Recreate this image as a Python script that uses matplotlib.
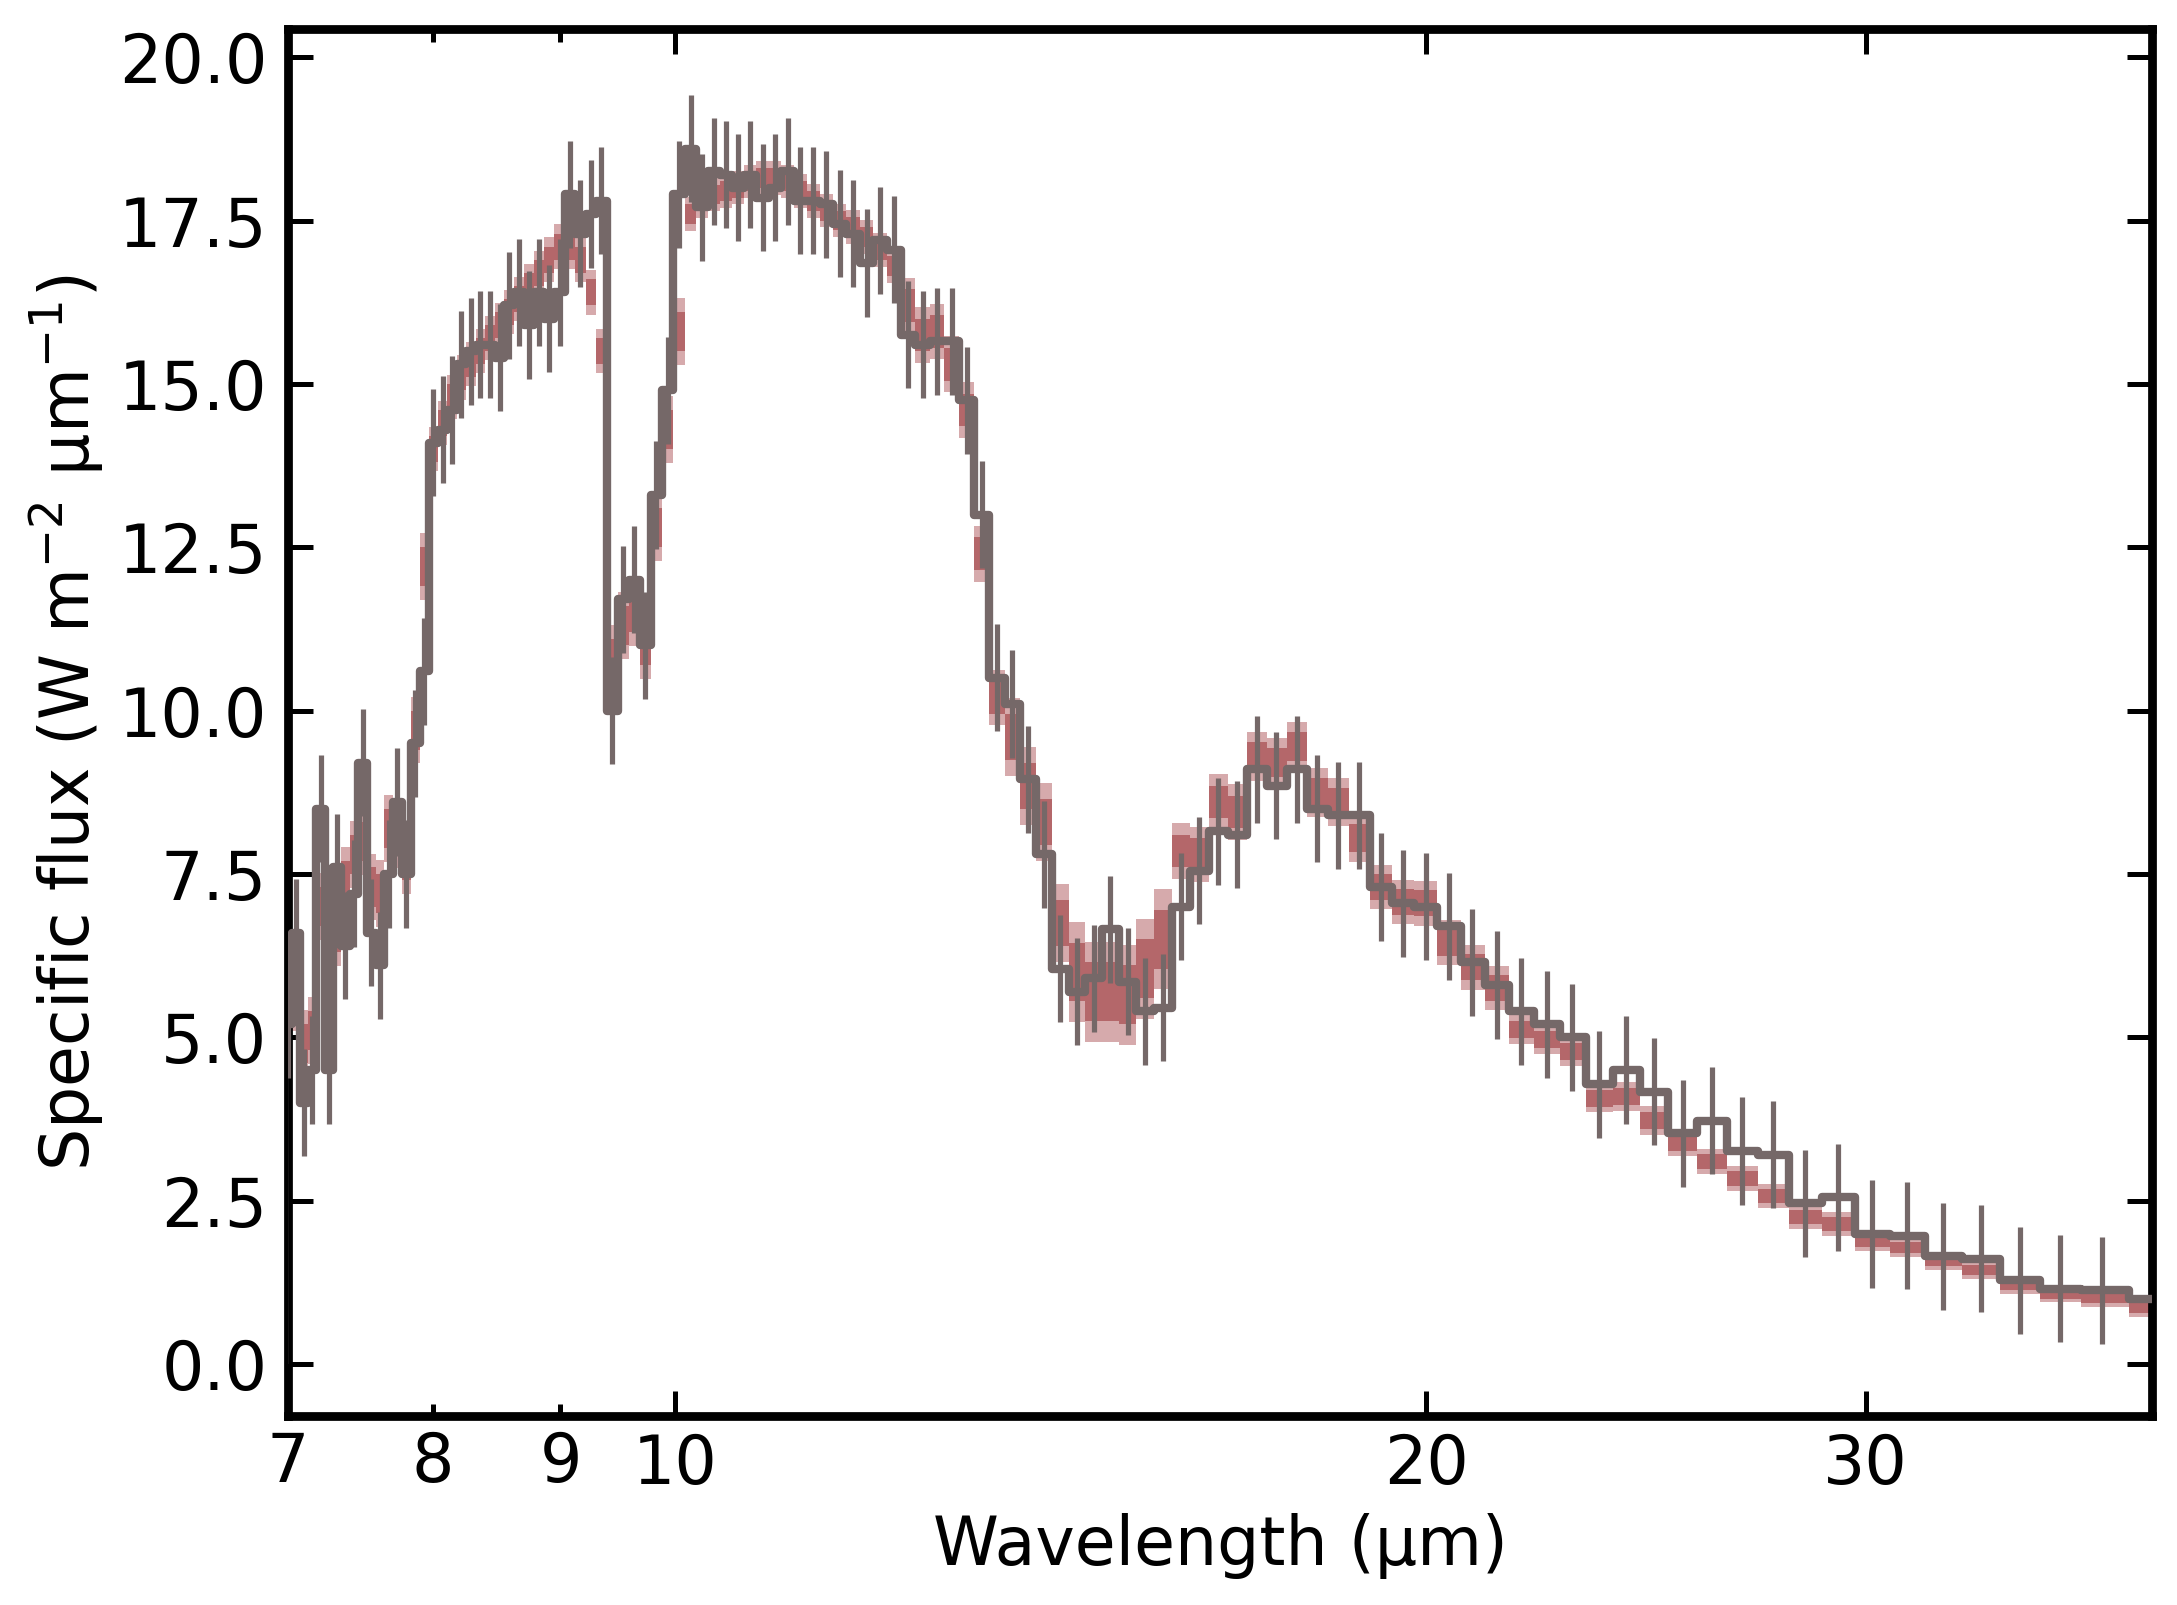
import numpy as np
import matplotlib
matplotlib.use("Agg")
import matplotlib.pyplot as plt

# bin centres of the spectrum (micron)
wavelength = [
    7.000, 7.052, 7.105, 7.158, 7.213, 7.268, 7.324, 7.381, 7.439, 7.498,
    7.558, 7.619, 7.680, 7.743, 7.807, 7.872, 7.938, 8.005, 8.073, 8.142,
    8.213, 8.285, 8.358, 8.432, 8.508, 8.585, 8.663, 8.743, 8.825, 8.908,
    8.992, 9.078, 9.166, 9.255, 9.347, 9.440, 9.535, 9.632, 9.730, 9.831,
    9.934, 10.040, 10.147, 10.257, 10.369, 10.484, 10.601, 10.721, 10.844, 10.969,
    11.098, 11.229, 11.364, 11.502, 11.643, 11.788, 11.936, 12.088, 12.245, 12.405,
    12.569, 12.738, 12.912, 13.090, 13.273, 13.462, 13.656, 13.855, 14.061, 14.272,
    14.491, 14.716, 14.948, 15.187, 15.434, 15.690, 15.954, 16.227, 16.510, 16.803,
    17.106, 17.420, 17.746, 18.085, 18.437, 18.802, 19.183, 19.579, 19.992, 20.423,
    20.872, 21.342, 21.834, 22.349, 22.888, 23.455, 24.050, 24.676, 25.336, 26.032,
    26.767, 27.544, 28.369, 29.244, 30.175, 31.167, 32.227, 33.361, 34.578, 35.887,
    37.300, 39.200,
]

# observed spectrum (grey steps + error bars)
flux = [
    5.2, 6.6, 4.0, 4.5, 8.5, 4.5, 7.6, 6.4, 7.2, 9.2,
    6.6, 6.1, 7.5, 8.6, 7.5, 9.5, 10.6, 14.1, 14.3, 14.6,
    15.3, 15.5, 15.6, 15.6, 15.4, 16.2, 16.4, 15.9, 16.4, 16.0,
    16.4, 17.9, 17.3, 17.6, 17.8, 10.0, 11.7, 12.0, 11.0, 13.3,
    14.9, 17.9, 18.6, 17.7, 18.25, 18.2, 18.0, 18.2, 17.85, 18.0,
    18.25, 17.8, 17.8, 17.75, 17.45, 17.3, 16.85, 17.2, 17.05, 15.75,
    15.6, 15.65, 15.65, 14.75, 13.0, 10.5, 10.1, 8.95, 7.8, 6.05,
    5.7, 5.9, 6.65, 5.85, 5.4, 5.45, 7.0, 7.55, 8.15, 8.1,
    9.1, 8.85, 9.1, 8.5, 8.4, 8.4, 7.3, 7.05, 7.0, 6.7,
    6.15, 5.8, 5.4, 5.2, 5.0, 4.28, 4.5, 4.17, 3.53, 3.72,
    3.26, 3.2, 2.46, 2.55, 1.99, 1.96, 1.65, 1.61, 1.28, 1.15,
    1.13, 0.99,
]
flux_err = 0.82

# retrieved model (red band): median and 1-sigma half width
model = [
    4.6, 5.6, 4.9, 5.1, 7.0, 6.0, 6.6, 7.4, 7.8, 8.0,
    7.3, 7.2, 8.2, 8.1, 7.7, 9.7, 12.2, 14.0, 14.4, 14.8,
    15.1, 15.3, 15.5, 15.7, 15.9, 16.1, 16.3, 16.5, 16.7, 16.9,
    17.1, 17.1, 16.9, 16.4, 15.5, 10.8, 11.3, 11.5, 11.0, 12.8,
    14.3, 15.8, 17.6, 17.8, 17.9, 17.95, 18.0, 18.1, 18.15, 18.15,
    18.1, 17.95, 17.8, 17.65, 17.5, 17.4, 17.25, 17.05, 16.8, 16.2,
    15.75, 15.8, 15.3, 14.6, 12.4, 10.2, 9.6, 8.85, 8.3, 6.75,
    6.0, 5.7, 5.7, 5.65, 6.05, 6.5, 7.85, 7.8, 8.6, 8.45,
    9.3, 9.2, 9.45, 8.75, 8.6, 8.05, 7.3, 7.07, 7.05, 6.45,
    6.07, 5.75, 5.12, 4.96, 4.78, 4.07, 4.1, 3.72, 3.37, 3.1,
    2.84, 2.57, 2.25, 2.14, 1.87, 1.78, 1.58, 1.44, 1.21, 1.08,
    1.01, 0.86,
]
model_sigma = [
    0.3, 0.3, 0.3, 0.3, 0.3, 0.3, 0.3, 0.3, 0.3, 0.3,
    0.3, 0.3, 0.3, 0.3, 0.3, 0.3, 0.3, 0.2, 0.2, 0.2,
    0.2, 0.2, 0.2, 0.2, 0.2, 0.2, 0.2, 0.2, 0.2, 0.2,
    0.2, 0.2, 0.2, 0.2, 0.2, 0.3, 0.3, 0.3, 0.3, 0.3,
    0.3, 0.3, 0.15, 0.15, 0.15, 0.15, 0.15, 0.15, 0.15, 0.15,
    0.15, 0.15, 0.15, 0.15, 0.15, 0.15, 0.15, 0.15, 0.15, 0.25,
    0.25, 0.25, 0.25, 0.25, 0.25, 0.25, 0.35, 0.35, 0.35, 0.35,
    0.45, 0.45, 0.45, 0.45, 0.45, 0.45, 0.25, 0.25, 0.25, 0.25,
    0.22, 0.22, 0.22, 0.22, 0.22, 0.22, 0.2, 0.2, 0.2, 0.2,
    0.2, 0.2, 0.13, 0.13, 0.13, 0.13, 0.13, 0.13, 0.11, 0.11,
    0.11, 0.11, 0.11, 0.11, 0.08, 0.08, 0.08, 0.08, 0.08, 0.08,
    0.08, 0.08,
]

GREY = "#756868"
DARK_RED = "#b4676a"
LIGHT_RED = "#d6aaac"


def bin_edges(centres):
    c = np.asarray(centres, dtype=float)
    mid = 0.5 * (c[1:] + c[:-1])
    first = c[0] - (mid[0] - c[0])
    last = c[-1] + (c[-1] - mid[-1])
    return np.concatenate([[first], mid, [last]])


edges = bin_edges(wavelength)
m = np.array(model)
s = np.array(model_sigma)

fig = plt.figure(figsize=(7.257, 5.35), dpi=300)
ax = fig.add_axes([0.1323, 0.118, 0.8562, 0.8639])

# model uncertainty bands
ax.stairs(m + 1.7 * s, edges, baseline=m - 1.7 * s, fill=True,
          color=LIGHT_RED, lw=0, zorder=1)
ax.stairs(m + s, edges, baseline=m - s, fill=True,
          color=DARK_RED, lw=0, zorder=2)

# observed spectrum
ax.errorbar(wavelength, flux, yerr=flux_err, fmt="none", ecolor=GREY,
            elinewidth=1.25, capsize=0, zorder=3)
ax.stairs(flux, edges, color=GREY, lw=2.0, joinstyle="round", zorder=4)

ax.set_xscale("log")
ax.set_xlim(7.0, 39.07)
ax.set_ylim(-0.79, 20.43)

ax.set_xticks([10, 20, 30], labels=["10", "20", "30"])
ax.set_xticks([7, 8, 9], labels=["7", "8", "9"], minor=True)
ax.set_yticks(np.arange(0, 20.1, 2.5))

ax.tick_params(which="both", direction="in", top=True, right=True,
               labelsize=16, width=1.2)
ax.tick_params(which="major", length=6)
ax.tick_params(which="minor", length=3)
ax.tick_params(axis="y", pad=5)
ax.tick_params(axis="x", pad=4)

for sp in ax.spines.values():
    sp.set_linewidth(2.1)

ax.set_xlabel("Wavelength (µm)", fontsize=16, labelpad=3.5)
ax.set_ylabel("Specific flux (W m$^{-2}$ µm$^{-1}$)", fontsize=16, labelpad=3)

fig.savefig("out.png", dpi=300)
plt.close(fig)
print("saved out.png")
